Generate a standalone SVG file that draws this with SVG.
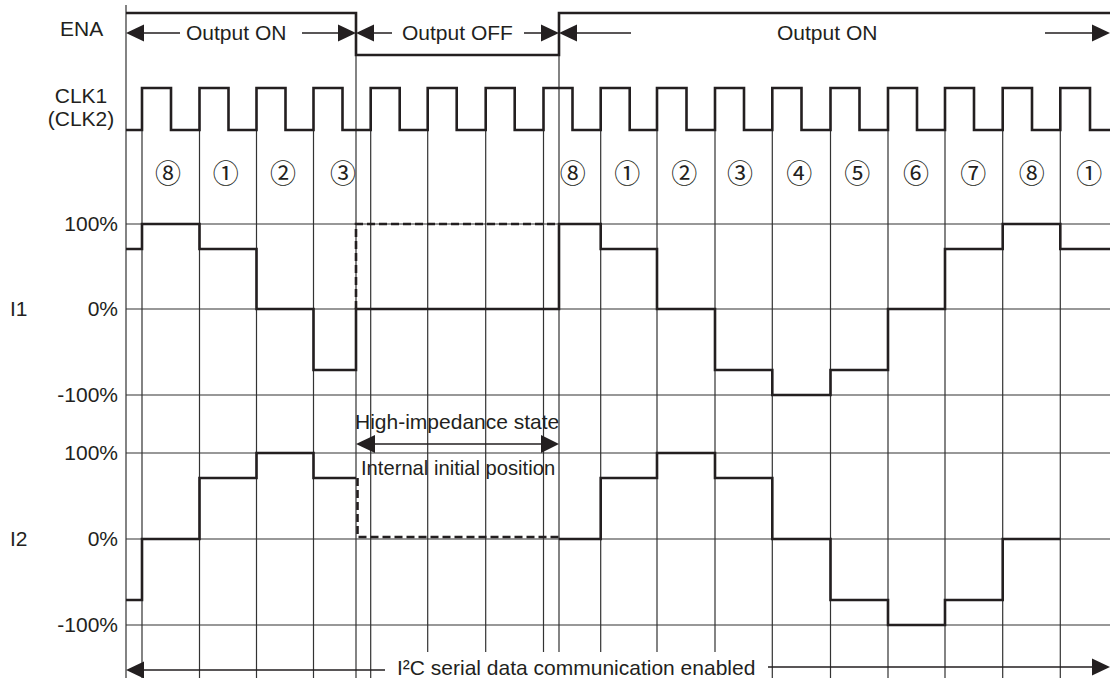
<svg xmlns="http://www.w3.org/2000/svg" width="1110" height="678" viewBox="0 0 1110 678">
<style>
.t{font-family:"Liberation Sans",Arial,sans-serif;font-size:21px;fill:#231f20}
.c{font-family:"Noto Sans CJK JP","DejaVu Sans",sans-serif;font-size:26px;fill:#231f20;text-anchor:middle}
.r{text-anchor:end}
.m{text-anchor:middle}
.g{stroke:#333;stroke-width:1.2;fill:none}
.w{stroke:#231f20;stroke-width:2.6;fill:none;stroke-linejoin:miter}
.d{stroke:#231f20;stroke-width:2.6;fill:none;stroke-dasharray:8 4}
.a{stroke:#231f20;stroke-width:1.3;fill:none}
.h{fill:#231f20}
</style>
<rect width="1110" height="678" fill="#fff"/>
<g id="grid">
<path class="g" d="M126,224H1110M126,309H1110M126,395H1110M126,453H1110M126,539H1110M126,625H1110"/>
<path class="g" d="M126,5V678M356,55V678M559,55V652"/>
<path class="g" d="M142,130V678M199.5,130V678M256.5,130V678M313.5,130V678M370.7,130V678M427.7,130V652M485.7,130V652M543.5,130V652M600.7,130V652M657,130V652M715,130V652M772.3,130V678M830.5,130V678M888,130V678M945,130V678M1002.7,130V678M1060.3,130V678"/>
</g>
<g id="labels">
<text class="t" x="60" y="36">ENA</text>
<text class="t m" x="81" y="103">CLK1</text>
<text class="t m" x="81" y="126">(CLK2)</text>
<text class="t r" x="118" y="231">100%</text>
<text class="t r" x="118" y="316">0%</text>
<text class="t r" x="118" y="402">-100%</text>
<text class="t r" x="118" y="460">100%</text>
<text class="t r" x="118" y="546">0%</text>
<text class="t r" x="118" y="632">-100%</text>
<text class="t" x="10" y="316">I1</text>
<text class="t" x="10" y="546">I2</text>
</g>
<g id="phases">
<text class="c" x="168" y="183">⑧</text>
<text class="c" x="225.7" y="183">①</text>
<text class="c" x="283" y="183">②</text>
<text class="c" x="343" y="183">③</text>
<text class="c" x="572.7" y="183">⑧</text>
<text class="c" x="627.3" y="183">①</text>
<text class="c" x="684.3" y="183">②</text>
<text class="c" x="740" y="183">③</text>
<text class="c" x="799.3" y="183">④</text>
<text class="c" x="857.3" y="183">⑤</text>
<text class="c" x="916" y="183">⑥</text>
<text class="c" x="973.3" y="183">⑦</text>
<text class="c" x="1031.7" y="183">⑧</text>
<text class="c" x="1089.3" y="183">①</text>
</g>
<g id="ena">
<path class="w" d="M126,13H356V55H559V13H1110"/>
</g>
<g id="clk">
<path class="w" d="M126,130H142V88H171V130H199.5V88H228.5V130H256.5V88H285.5V130H313.5V88H342.5V130H370.7V88H399.7V130H427.7V88H456.7V130H485.7V88H514.7V130H543.5V88H572.5V130H600.7V88H629.7V130H657V88H686.5V130H715V88H744V130H772.3V88H801.5V130H830.5V88H859.5V130H888V88H917V130H945V88H974V130H1002.7V88H1032V130H1060.3V88H1090V130H1110"/>
</g>
<g id="i1">
<path class="w" d="M126,249H142V224H199.5V249H256.5V309H313.5V370H356V309H559V224H600.7V249H657V309H715V370H772.3V395H830.5V370H888V309H945V249H1002.7V224H1060.3V249H1110"/>
<path class="d" d="M356,309V224H557"/>
</g>
<g id="i2">
<path class="w" d="M126,600H142V539H199.5V478H256.5V453H313.5V478H356"/>
<path class="d" d="M357.5,478V537H559"/>
<path class="w" d="M559,539H600.7V478H657V453H715V478H772.3V539H830.5V600H888V625H945V600H1002.7V539H1060.3"/>
</g>
<g id="connectors">
<path class="a" d="M144,33H180M302,33H340M374,33H392M524,33H541M577,33H631M1045,33H1093"/>
<polygon class="h" points="126,33 144,24.5 144,41.5"/>
<polygon class="h" points="356,33 338,24.5 338,41.5"/>
<polygon class="h" points="356,33 374,24.5 374,41.5"/>
<polygon class="h" points="559,33 541,24.5 541,41.5"/>
<polygon class="h" points="559,33 577,24.5 577,41.5"/>
<polygon class="h" points="1110,33 1092,24.5 1092,41.5"/>
<path class="a" d="M374,444H542"/>
<polygon class="h" points="356,444 375,435 375,453"/>
<polygon class="h" points="559,444 541,435 541,453"/>
<path class="a" d="M144,670H385M768,667H1093"/>
<polygon class="h" points="126,670 144,661.5 144,678.5"/>
<polygon class="h" points="1110,667 1092,658.5 1092,675.5"/>
</g>
<g id="annotations">
<text class="t" x="186" y="40">Output ON</text>
<text class="t" x="402" y="40">Output OFF</text>
<text class="t" x="777" y="40">Output ON</text>
<text class="t" x="355" y="429">High-impedance state</text>
<text class="t" x="361" y="475" style="font-size:20.2px">Internal initial position</text>
<text class="t" x="397" y="675">I²C serial data communication enabled</text>
</g>
</svg>
